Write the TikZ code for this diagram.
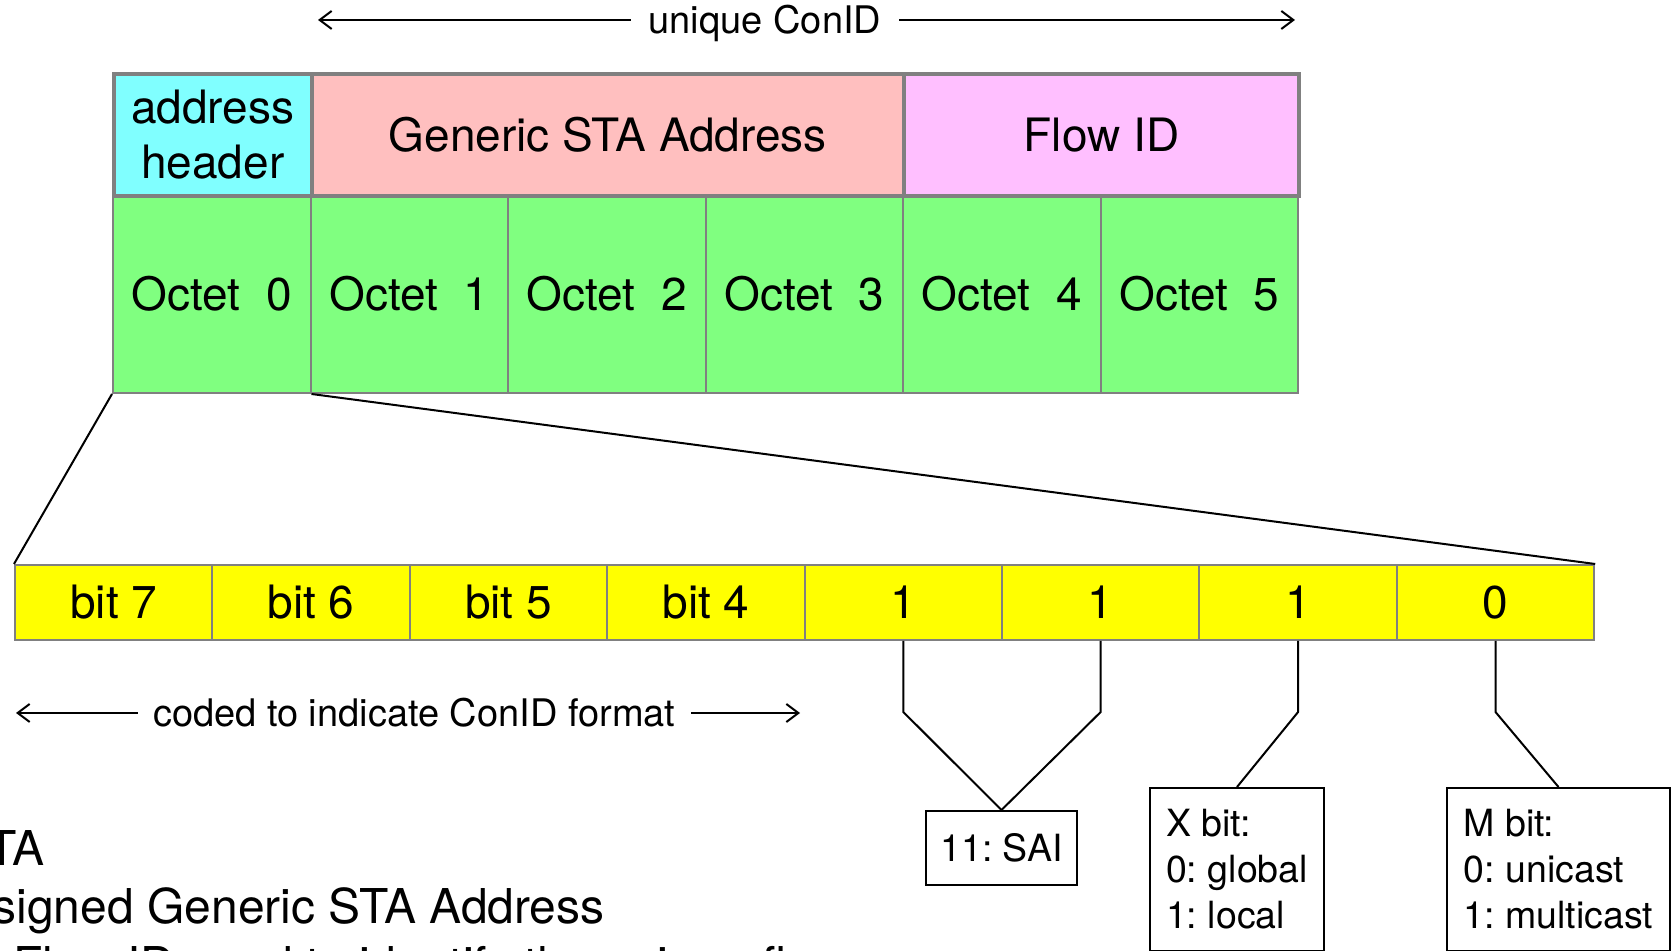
\documentclass[tikz,border=0pt]{standalone}
\usepackage{fontspec}
\setmainfont{TeX Gyre Heros}
\usetikzlibrary{arrows.meta}
\definecolor{hdrcyan}{HTML}{80FFFF}
\definecolor{hdrpink}{HTML}{FFBFBF}
\definecolor{hdrmag}{HTML}{FFBFFF}
\definecolor{octgreen}{HTML}{80FF80}
\definecolor{bityel}{HTML}{FFFF00}
\definecolor{edgegray}{HTML}{808080}
\frenchspacing
\begin{document}
\begin{tikzpicture}[x=0.5pt,y=-0.5pt,
  cell/.style={draw=edgegray, line width=1pt, anchor=north west, inner sep=0pt, align=center},
  hdr/.style={cell, line width=2pt, minimum height=61pt, font=\fontsize{23pt}{27.5pt}\selectfont},
  octet/.style={cell, fill=octgreen, minimum width=98.75pt, minimum height=99pt, font=\fontsize{23pt}{27pt}\selectfont},
  bitcell/.style={cell, fill=bityel, minimum width=98.7pt, minimum height=37.5pt, font=\fontsize{23pt}{27pt}\selectfont},
  note/.style={draw=black, line width=1pt, anchor=north west, inner sep=0pt, align=left, font=\fontsize{18.75pt}{23pt}\selectfont},
  link/.style={draw=black, line width=1pt},
  dim/.style={line width=1pt, {Straight Barb[length=6pt,width=9pt]}-{Straight Barb[length=6pt,width=9pt]}},
  dimlabel/.style={fill=white, inner sep=0pt, text height=13.6pt, text depth=0pt, font=\fontsize{19pt}{23pt}\selectfont},
  side/.style={inner sep=0pt, font=\fontsize{24pt}{29pt}\selectfont}
]
\useasboundingbox (0,0) rectangle (1678,951);
\clip (0,0) rectangle (1678,951);

% octets
\node[octet] (o0) at (112,194) {Octet\ \ 0};
\node[octet] (o1) at (309.5,194) {Octet\ \ 1};
\node[octet] (o2) at (507,194) {Octet\ \ 2};
\node[octet] (o3) at (704.5,194) {Octet\ \ 3};
\node[octet] (o4) at (902,194) {Octet\ \ 4};
\node[octet] (o5) at (1099.5,194) {Octet\ \ 5};

% header
\node[hdr, fill=hdrcyan, minimum width=98.75pt] (ah) at (112,72) {address\\header};
\node[hdr, fill=hdrpink, minimum width=296.25pt] (gsa) at (309.5,72) {Generic STA Address};
\node[hdr, fill=hdrmag, minimum width=197.5pt] (fid) at (902,72) {Flow ID};

% top arrow
\coordinate (ul) at (318,20);
\coordinate (ur) at (1295,20);
\draw[dim] (ul) -- (ur) node[dimlabel, inner xsep=9pt, pos=0.4575] (uclbl) {unique ConID};

% bits
\node[bitcell] (b7) at (14,564) {bit 7};
\node[bitcell] (b6) at (211.4,564) {bit 6};
\node[bitcell] (b5) at (408.8,564) {bit 5};
\node[bitcell] (b4) at (606.2,564) {bit 4};
\node[bitcell] (b3) at (803.6,564) {1};
\node[bitcell] (b2) at (1001,564) {1};
\node[bitcell] (b1) at (1198.4,564) {1};
\node[bitcell] (b0) at (1395.8,564) {0};

% zoom lines
\draw[link] (o0.south west) -- (b7.north west);
\draw[link] (o0.south east) -- (b0.north east);

% bottom arrow
\coordinate (cl) at (16,713);
\coordinate (cr) at (800,713);
\draw[dim] (cl) -- (cr) node[dimlabel, inner xsep=7.75pt, pos=0.508] (cflbl) {coded to indicate ConID format};

% notes
\node[note, minimum width=75.5pt, minimum height=37pt] (sai) at (925,810) {11: SAI};
\node[note, minimum width=87pt, minimum height=81.5pt] (xb) at (1149,787) {X bit:\\0: global\\1: local};
\node[note, minimum width=111.5pt, minimum height=81.5pt] (mb) at (1446,787) {M bit:\\0: unicast\\1: multicast};

% leaders
\draw[link] (b3.south) -- ++(0,71) -- (sai.north);
\draw[link] (b2.south) -- ++(0,71) -- (sai.north);
\draw[link] (b1.south) -- ++(0,71) -- (xb.north);
\draw[link] (b0.south) -- ++(0,71) -- (mb.north);

% side text (cut off in the reference)
\node[side, anchor=base east] (s1) at (45,866) {STA};
\node[side, anchor=base east] (s2) at (605,924) {assigned Generic STA Address};
\node[side, anchor=base west] (s3) at (13,982) {Flow ID used to identify the unique flow};
\end{tikzpicture}
\end{document}
